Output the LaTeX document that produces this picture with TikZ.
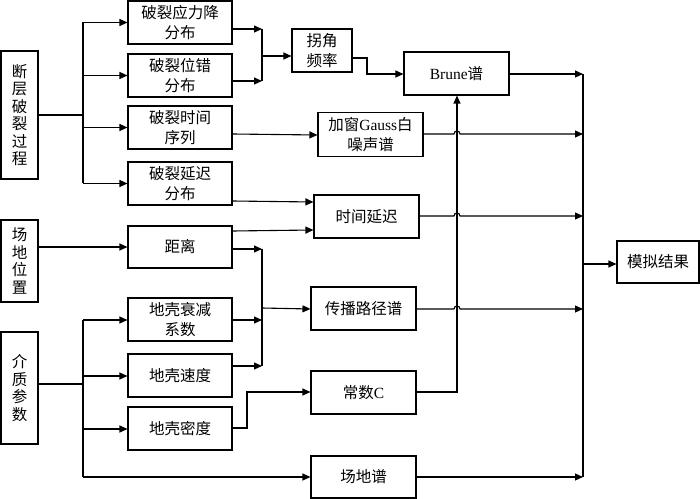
\documentclass[tikz,border=0pt]{standalone}
\usepackage{fontspec}
\setmainfont{Liberation Serif}
\newfontfamily\cjk{Noto Sans CJK SC}
\usetikzlibrary{arrows.meta}
\begin{document}
\begin{tikzpicture}[x=1bp,y=-1bp,line width=1.1bp,
  box/.style={draw,inner sep=0pt,align=center,minimum width=104bp,minimum height=43bp,
    font=\fontsize{15.5bp}{20bp}\cjk},
  vbox/.style={draw,inner sep=0pt,align=center,minimum width=37bp,
    font=\fontsize{15.5bp}{17.5bp}\cjk},
  arr/.style={-{Triangle[length=8bp,width=7bp]}}]
\useasboundingbox (0,0) rectangle (700,499);
% left boxes
\node[vbox,minimum height=128bp] (gz) at (19.5,115) {断\\层\\破\\裂\\过\\程};
\node[vbox,minimum height=82bp] (cd) at (19.5,261) {场\\地\\位\\置};
\node[vbox,minimum height=112bp] (jz) at (19.5,388) {介\\质\\参\\数};
% middle column
\node[box] (b1) at (180,22.5) {破裂应力降\\分布};
\node[box] (b2) at (180,75.5) {破裂位错\\分布};
\node[box] (b3) at (180,127.5) {破裂时间\\序列};
\node[box] (b4) at (180,183.5) {破裂延迟\\分布};
\node[box,minimum height=42bp] (b5) at (180,247) {距离};
\node[box] (b6) at (180,319.5) {地壳衰减\\系数};
\node[box] (b7) at (180,375.5) {地壳速度};
\node[box] (b8) at (180,428.5) {地壳密度};
% right part
\node[box,minimum width=60bp] (gj) at (322,50.5) {拐角\\频率};
\node[box,minimum width=105bp] (brune) at (456.5,73.5) {{\rmfamily Brune}谱};
\node[box,minimum width=105bp,minimum height=44bp] (gauss) at (370.5,134.5) {加窗{\rmfamily Gauss}白\\噪声谱};
\node[box,minimum width=105bp] (sj) at (366.5,216.5) {时间延迟};
\node[box,minimum width=105bp] (cb) at (363.5,308.5) {传播路径谱};
\node[box,minimum width=105bp] (cs) at (363.5,392.5) {常数{\rmfamily C}};
\node[box,minimum width=105bp,minimum height=42bp] (cdp) at (363.5,477) {场地谱};
\node[box,minimum width=82bp,minimum height=42bp] (mn) at (658,262) {模拟结果};
% junction coordinates
\coordinate (tA) at (83,0);
\coordinate (J1) at (262,56);
\coordinate (J2) at (262,308);
\coordinate (R) at (583,0);
\coordinate (V) at (457,0);
% fault rupture trunk
\draw (gz.east |- 0,115) -- (tA |- 0,115);
\draw (tA |- b1.west) -- (tA |- b4.west);
\foreach \n in {b1,b2,b3,b4} \draw[arr] (tA |- \n.west) -- (\n.west);
% site position
\draw[arr] (cd.east |- b5.west) -- (b5.west);
% medium parameters trunk
\draw (jz.east |- 0,384) -- (tA |- 0,384);
\draw (tA |- 0,320) -- (tA |- 0,477);
\draw[arr] (tA |- 0,320) -- (b6.west |- 0,320);
\draw[arr] (tA |- 0,376) -- (b7.west |- 0,376);
\draw[arr] (tA |- 0,429) -- (b8.west |- 0,429);
\draw[arr] (tA |- 0,477) -- (cdp.west);
% corner frequency merge
\draw[arr] (b1.east |- 0,29) -- (J1 |- 0,29);
\draw[arr] (b2.east |- 0,81) -- (J1 |- 0,81);
\draw (J1 |- 0,29) -- (J1 |- 0,81);
\draw[arr] (J1) -- (gj.west |- J1);
\draw[arr] (gj.east |- 0,58) -- (367,58) -- (367,74) -- (brune.west |- 0,74);
% time series -> gauss
\draw[arr] (b3.east |- 0,134) -- (gauss.west |- 0,135);
% delay
\draw[arr] (b4.east |- 0,201) -- (sj.west |- 0,202);
\draw[arr] (b5.east |- 0,231) -- (sj.west |- 0,230);
% path merge
\draw[arr] (b5.east |- 0,249) -- (J2 |- 0,249);
\draw[arr] (b6.east |- 0,320) -- (J2 |- 0,320);
\draw[arr] (b7.east |- 0,366) -- (J2 |- 0,366);
\draw (J2 |- 0,249) -- (J2 |- 0,366);
\draw[arr] (J2) -- (cb.west |- 0,309);
% density -> constant C
\draw[arr] (b8.east |- 0,428) -- (247,428) -- (247,392) -- (cs.west |- 0,392);
% constant C -> Brune
\draw[arr] (cs.east |- 0,392) -- (V |- 0,392) -- (V |- brune.south);
% outputs to right trunk
\draw[arr] (brune.east |- 0,74) -- (R |- 0,74);
\draw[arr] (gauss.east |- 0,134) -- (454,134) .. controls (454,130) and (460,130) .. (460,134) -- (R |- 0,134);
\draw[arr] (sj.east |- 0,216) -- (454,216) .. controls (454,212) and (460,212) .. (460,216) -- (R |- 0,216);
\draw[arr] (cb.east |- 0,309) -- (454,309) .. controls (454,305) and (460,305) .. (460,309) -- (R |- 0,309);
\draw[arr] (cdp.east |- 0,477) -- (R |- 0,477);
\draw (R |- 0,74) -- (R |- 0,477);
\draw[arr] (R |- 0,264) -- (mn.west |- 0,264);
\end{tikzpicture}
\end{document}
